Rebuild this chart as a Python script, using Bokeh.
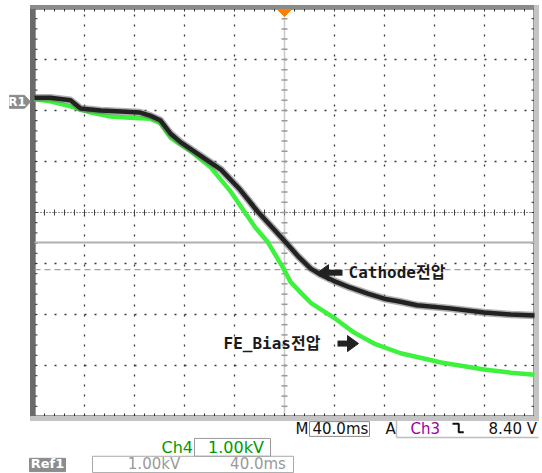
import numpy as np
from bokeh.plotting import figure
from bokeh.models import Range1d, Label
from bokeh.embed import file_html
from bokeh.resources import INLINE

# ---------------- data (time in ms, voltage in kV; 40 ms/div, 1 kV/div) ----------------
time_cathode_ms = [-200, -187.4, -171.2, -163.1, -147.0, -130.8, -115.6, -107.5, -99.4, -91.3,
                   -83.2, -67.0, -50.8, -35.6, -21.5, 0.8, 10.9, 21.0, 29.1, 39.3, 52.4, 66.6,
                   79.7, 92.9, 106.0, 132.4, 159.7, 181.0, 200]
cathode_kv = [2.25, 2.25, 2.20, 2.04, 2.00, 1.98, 1.96, 1.90, 1.81, 1.55, 1.38, 1.11, 0.84,
              0.45, 0.02, -0.58, -0.86, -1.10, -1.22, -1.34, -1.47, -1.59, -1.69, -1.75,
              -1.82, -1.88, -1.96, -2.00, -2.02]

time_fe_ms = [-200, -187.4, -171.2, -155.0, -138.9, -123.7, -107.5, -99.4, -91.3, -75.1, -58.9,
              -43.7, -31.6, -23.5, -13.4, -1.2, 4.8, 13.0, 21.0, 39.3, 55.4, 71.6, 92.9, 125.3,
              159.7, 181.0, 200]
fe_bias_kv = [2.22, 2.18, 2.08, 1.96, 1.88, 1.86, 1.84, 1.75, 1.47, 1.20, 0.88, 0.43, 0.00,
              -0.29, -0.58, -1.08, -1.36, -1.57, -1.77, -2.06, -2.35, -2.57, -2.76, -2.94,
              -3.08, -3.14, -3.18]

cursor_solid_kv = -0.59
cursor_dash_kv = -1.12
ref1_level_kv = 2.17

label_cathode = "Cathode전압"
label_fe = "FE_Bias전압"

# ---------------- geometry ----------------
W, H = 542, 473
FL, FT = 34, 8            # graticule left / top (px in canvas)
XS = 0.8                  # ms per px (50 px per division)
YS = 1.0 / 51.0           # kV per px (51 px per division)
X0 = -200 - FL * XS
X1 = X0 + W * XS
Y1 = 4 + FT * YS
Y0 = Y1 - H * YS

p = figure(width=W, height=H, x_range=Range1d(X0, X1), y_range=Range1d(Y0, Y1),
           output_backend="svg", toolbar_location=None,
           x_axis_location=None, y_axis_location=None, min_border=0,
           outline_line_color=None, background_fill_color="white",
           border_fill_color="white")
p.grid.visible = False

# ---------------- graticule ----------------
major_x = [-160, -120, -80, -40, 40, 80, 120, 160]
major_y = [-3, -2, -1, 1, 2, 3]
minor_x = np.arange(-200, 200.01, 8.0)
minor_y = np.arange(-4, 4.001, 0.2)

p.segment(x0=major_x, y0=-4, x1=major_x, y1=4, line_color="#3a3a3a", line_width=1.3, line_dash="2 8")
p.segment(x0=-200, y0=major_y, x1=200, y1=major_y, line_color="#3a3a3a", line_width=1.3, line_dash="2 8")

# center horizontal
p.segment(x0=-200, y0=0, x1=200, y1=0, line_color="#222222", line_width=1.2, line_dash="1 2")
p.segment(x0=minor_x, y0=-3 * YS, x1=minor_x, y1=3 * YS, line_color="#444444", line_width=1)
# center vertical
p.segment(x0=0, y0=-4, x1=0, y1=4, line_color="#9a9a9a", line_width=1.6, line_dash="1 1")
p.segment(x0=-3 * XS, y0=minor_y, x1=3 * XS, y1=minor_y, line_color="#9a9a9a", line_width=1.5)

# edge ticks and dotted edges
p.segment(x0=-200, y0=minor_y, x1=-200 + 3 * XS, y1=minor_y, line_color="#333333", line_width=1)
p.segment(x0=200 - 3 * XS, y0=minor_y, x1=200, y1=minor_y, line_color="#333333", line_width=1)
p.segment(x0=minor_x, y0=-4, x1=minor_x, y1=-4 + 3 * YS, line_color="#333333", line_width=1)
p.segment(x0=minor_x, y0=4 - 3 * YS, x1=minor_x, y1=4, line_color="#333333", line_width=1)
p.segment(x0=[-200 + XS, 200 - XS, -200, -200], y0=[-4, -4, -4 + YS, 4 - YS],
          x1=[-200 + XS, 200 - XS, 200, 200], y1=[4, 4, -4 + YS, 4 - YS],
          line_color="#333333", line_width=1, line_dash="1 1")

# frame bars
p.quad(left=-200 - 4 * XS, right=-200, bottom=-4 - 4 * YS, top=4 + 3 * YS, color="#6a6a6a")
p.quad(left=-200 - 4 * XS, right=200 + 4 * XS, bottom=4, top=4 + 3 * YS, color="#8a8a8a")
p.quad(left=200, right=200 + 4 * XS, bottom=-4 - 4 * YS, top=4 + 3 * YS, color="#c4c4c4")
p.quad(left=-200 - 4 * XS, right=200 + 4 * XS, bottom=-4 - 4 * YS, top=-4, color="#c4c4c4")

# cursors
p.segment(x0=-200, y0=cursor_solid_kv, x1=200, y1=cursor_solid_kv, line_color="#b0b0b0", line_width=2)
p.segment(x0=-200, y0=cursor_dash_kv, x1=200, y1=cursor_dash_kv, line_color="#a0a0a0", line_width=1.2, line_dash="6 4")

# ---------------- traces ----------------
p.line(time_fe_ms, fe_bias_kv, line_color="#3df23d", line_width=4.5, line_join="round")
p.line(time_cathode_ms, cathode_kv, line_color="#707070", line_width=7.5, line_join="round", line_alpha=0.55)
p.line(time_cathode_ms, cathode_kv, line_color="#222222", line_width=4.5, line_join="round")

# trigger marker
p.patch(x=[-7 * XS, 7 * XS, 0], y=[4 - 1 * YS, 4 - 1 * YS, 4 - 8 * YS], color="#ff7f00")

# R1 marker
p.patch(x=[X0 + 9 * XS, X0 + 24 * XS, X0 + 30 * XS, X0 + 24 * XS, X0 + 9 * XS],
        y=[ref1_level_kv + 6.5 * YS, ref1_level_kv + 6.5 * YS, ref1_level_kv,
           ref1_level_kv - 6.5 * YS, ref1_level_kv - 6.5 * YS], color="#8c8c8c")
p.add_layout(Label(x=X0 + 16.5 * XS, y=ref1_level_kv, text="R1", text_color="white",
                   text_font="DejaVu Sans", text_font_style="bold", text_font_size="12px",
                   text_align="center", text_baseline="middle"))

# ---------------- in-plot labels with arrows ----------------
FONT_LBL = "DejaVu Sans Mono, Noto Sans CJK KR"
cath_y = -1.18
fe_y = -2.57
# cathode arrow (pointing left)
tip = 26.4
p.segment(x0=tip + 9 * XS, y0=cath_y, x1=tip + 25 * XS, y1=cath_y, line_color="#222222", line_width=6)
p.patch(x=[tip, tip + 11 * XS, tip + 11 * XS], y=[cath_y, cath_y + 8 * YS, cath_y - 8 * YS], color="#222222")
p.add_layout(Label(x=51.2, y=cath_y, text=label_cathode, text_color="#1a1a1a", text_font=FONT_LBL,
                   text_font_size="16px", text_font_style="bold", text_baseline="middle",
                   text_align="left"))
# FE arrow (pointing right)
tip2 = 59.2
p.segment(x0=tip2 - 21 * XS, y0=fe_y, x1=tip2 - 9 * XS, y1=fe_y, line_color="#222222", line_width=6)
p.patch(x=[tip2, tip2 - 11 * XS, tip2 - 11 * XS], y=[fe_y, fe_y + 8 * YS, fe_y - 8 * YS], color="#222222")
p.add_layout(Label(x=-48.8, y=fe_y, text=label_fe, text_color="#1a1a1a", text_font=FONT_LBL,
                   text_font_size="16px", text_font_style="bold", text_baseline="middle",
                   text_align="left"))

# ---------------- bottom status area ----------------
FONT_B = "DejaVu Sans"


def lab(x, y, text, color="#111111", align="left", size="15px", style="normal"):
    p.add_layout(Label(x=x, y=y, text=text, text_color=color, text_font=FONT_B,
                       text_font_size=size, text_align=align, text_baseline="middle",
                       text_font_style=style))


row1 = -4.245
row2 = -4.61
row3 = -4.93

lab(8.8, row1, "M")
p.quad(left=20.0, right=68.0, bottom=-4.39, top=-4.10, fill_color=None, line_color="#8a8a8a", line_width=1)
lab(22.4, row1, "40.0ms")
lab(80.8, row1, "A")
p.segment(x0=[89.6, 89.6], y0=[-4.08, -4.41], x1=[89.6, 203.2], y1=[-4.41, -4.41],
          line_color="#bdbdbd", line_width=1.5)
lab(100.8, row1, "Ch3", color="#a000a0")
p.line(x=[134.4, 139.4, 139.4, 143.4], y=[-4.14, -4.14, -4.31, -4.31], line_color="#111111", line_width=2)
lab(202.0, row1, "8.40 V", align="right")

lab(-73.2, row2, "Ch4", color="#009a00", align="right", size="16px")
p.quad(left=-72.0, right=-11.2, bottom=-4.78, top=-4.43, fill_color=None, line_color="#9a9a9a", line_width=1)
lab(-38.8, row2, "1.00kV", color="#009a00", align="center", size="16px")

p.quad(left=-204.0, right=-175.2, bottom=-5.08, top=-4.82, color="#8c8c8c")
lab(-189.6, row3, "Ref1", color="white", align="center", size="13px", style="bold")
p.quad(left=-153.6, right=7.2, bottom=-5.10, top=-4.78, fill_color=None, line_color="#a8a8a8", line_width=1)
lab(-104.4, row3, "1.00kV", color="#9a9a9a", align="center", size="15px")
lab(-21.2, row3, "40.0ms", color="#9a9a9a", align="center", size="15px")

open("out.html", "w").write(file_html(p, INLINE))
